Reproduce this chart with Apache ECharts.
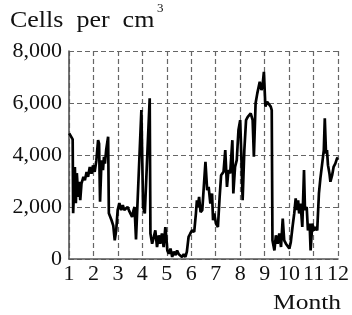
<!DOCTYPE html>
<html>
<head>
    <meta charset="utf-8">
    <title>Cells per cm3</title>
    <script src="https://cdn.jsdelivr.net/npm/echarts@6/dist/echarts.min.js"></script>
    <style>
        html, body { margin: 0; padding: 0; background: #fff; }
        #main { width: 352px; height: 315px; }
    </style>
</head>
<body>
<div id="main"></div>
<script>
    // sample positions along the year (month number) and cell counts
    var monthPos = [
        1.01, 1.15, 1.17, 1.24, 1.28, 1.32, 1.38, 1.42, 1.46, 1.51, 1.59, 1.65, 1.72, 1.78, 1.85, 1.92, 1.98,
        2.05, 2.12, 2.19, 2.23, 2.27, 2.33, 2.39, 2.43, 2.47, 2.52, 2.60, 2.63, 2.74, 2.81, 2.87, 2.93, 2.99,
        3.06, 3.13, 3.20, 3.26, 3.33, 3.40, 3.47, 3.54, 3.58, 3.64, 3.68, 3.74, 3.96,
        4.03, 4.10, 4.30, 4.33, 4.40, 4.47, 4.53, 4.60, 4.67, 4.73, 4.80, 4.87, 4.94, 4.98,
        5.02, 5.08, 5.15, 5.22, 5.29, 5.36, 5.42, 5.49, 5.56, 5.62, 5.69, 5.76, 5.82, 5.89, 5.96,
        6.03, 6.12, 6.19, 6.23, 6.27, 6.32, 6.38, 6.45, 6.58, 6.65, 6.71, 6.78, 6.85, 6.89, 6.94,
        7.01, 7.09, 7.16, 7.22, 7.32, 7.39, 7.46, 7.52, 7.59, 7.68, 7.72, 7.79, 7.86, 7.93,
        8.00, 8.04, 8.10, 8.17, 8.24, 8.31, 8.37, 8.43, 8.51, 8.56, 8.63, 8.70, 8.76, 8.80, 8.87, 8.91, 8.97,
        9.03, 9.10, 9.17, 9.25, 9.29, 9.32, 9.40, 9.46, 9.53, 9.60, 9.67, 9.74, 9.80, 9.87, 9.94,
        10.01, 10.07, 10.14, 10.21, 10.27, 10.31, 10.37, 10.41, 10.47, 10.54, 10.61, 10.65, 10.72, 10.77, 10.84, 10.88, 10.95,
        11.02, 11.08, 11.15, 11.22, 11.28, 11.35, 11.42, 11.46, 11.51, 11.55, 11.59, 11.65, 11.69, 11.76, 11.82, 11.89, 11.96, 12.0
    ];
    var cells = [
        4830, 4600, 1760, 3540, 2150, 3300, 2390, 2970, 2260, 2900, 3160, 3030, 3350, 3160, 3540, 3280, 3600,
        3350, 3800, 4570, 4440, 2200, 3800, 3420, 3930, 3670, 4190, 4700, 1760, 1490, 1280, 720, 1100, 1880,
        2150, 1880, 2070, 1880, 1880, 2000, 1830, 1880, 1620, 1880, 2000, 750, 5730,
        2000, 1750, 6180, 980, 590, 850, 1100, 460, 910, 590, 980, 460, 1230, 850,
        330, 200, 400, 80, 280, 150, 330, 180, 230, 80, 180, 80, 280, 850, 980,
        1100, 1040, 1750, 2260, 2000, 2390, 1800, 1880, 3740, 2650, 2770, 2130, 2520, 1490, 1750,
        1360, 1230, 2390, 3220, 3350, 4190, 2770, 3420, 3290, 4570, 2520, 3540, 3800, 4960,
        5340, 4190, 2260, 4190, 5340, 5470, 5410, 5600, 5340, 3930, 5990, 6370, 6370, 6820, 6500, 6630, 7200,
        5860, 6050, 5990, 5860, 5730, 720, 330, 910, 590, 980, 460, 1550, 720, 590, 650,
        400, 650, 1230, 1750, 2330, 1880, 2260, 1750, 2130, 1230, 3420, 1880, 2000, 1100, 1360, 330, 1360,
        1100, 1230, 1100, 2520, 3100, 3160, 4190, 5410, 4060, 4190, 3610, 3290, 2970, 3220, 3540, 3670, 3870, 3900
    ];
    var yTicks = [0, 2000, 4000, 6000, 8000];

    var points = [];
    for (var i = 0; i < monthPos.length; i++) {
        points.push([monthPos[i], cells[i]]);
    }

    var font = '"Liberation Serif", "Times New Roman", serif';
    var myChart = echarts.init(document.getElementById('main'), null, {renderer: 'canvas'});
    myChart.setOption({
        animation: false,
        grid: {left: 69, right: 11, top: 51, bottom: 56, containLabel: false},
        xAxis: {
            type: 'value',
            min: 1,
            max: 12,
            interval: 1,
            axisLine: {show: true, onZero: false, lineStyle: {color: '#555', width: 1.6}},
            axisTick: {show: false},
            axisLabel: {color: '#111', fontFamily: font, fontSize: 22, margin: 4},
            splitLine: {show: true, lineStyle: {color: '#666', width: 1.2, type: [5, 3]}}
        },
        yAxis: {
            type: 'value',
            min: yTicks[0],
            max: yTicks[yTicks.length - 1],
            interval: 2000,
            axisLine: {show: true, lineStyle: {color: '#555', width: 1.6}},
            axisTick: {show: false},
            axisLabel: {
                color: '#111', fontFamily: font, fontSize: 22, margin: 7,
                formatter: function (v) { return v.toLocaleString('en-US'); }
            },
            splitLine: {show: true, lineStyle: {color: '#666', width: 1.2, type: [5, 3]}}
        },
        graphic: [
            {
                type: 'text', x: 10, y: 9, scaleX: 1.13,
                style: {text: 'Cells  per  cm', fill: '#111', font: '23px ' + font, textVerticalAlign: 'top'}
            },
            {
                type: 'text', x: 157, y: 2,
                style: {text: '3', fill: '#111', font: '13px ' + font, textVerticalAlign: 'top'}
            },
            {
                type: 'text', x: 273, y: 292, scaleX: 1.16,
                style: {text: 'Month', fill: '#111', font: '22px ' + font, textVerticalAlign: 'top'}
            }
        ],
        series: [{
            type: 'line',
            data: points,
            symbol: 'none',
            lineStyle: {color: '#000', width: 2.7},
            z: 5
        }]
    });
</script>
</body>
</html>
